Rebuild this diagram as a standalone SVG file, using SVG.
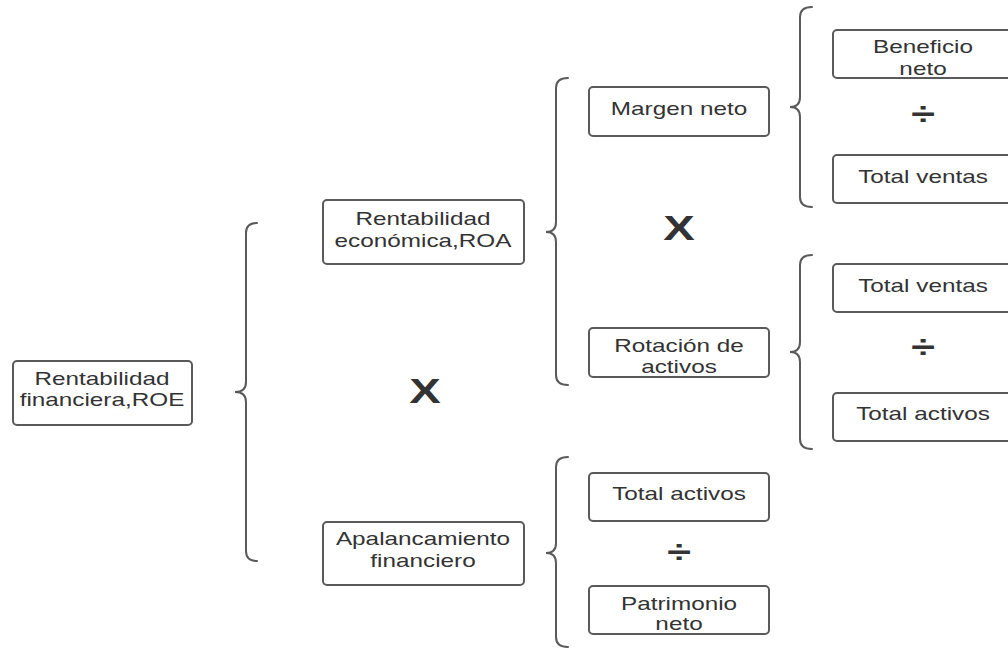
<svg xmlns="http://www.w3.org/2000/svg" width="1008" height="649" viewBox="0 0 1008 649">
<style>
.box{fill:#fff;stroke:#5a5a5a;stroke-width:2}
.br{fill:none;stroke:#5a5a5a;stroke-width:2;stroke-linecap:round}
.t{font-family:"Liberation Sans",Arial,sans-serif;font-size:18px;fill:#333;text-anchor:middle}
.op{font-family:"Liberation Sans",Arial,sans-serif;font-weight:bold;fill:#333;text-anchor:middle}
</style>
<rect width="1008" height="649" fill="#fff"/>
<g id="connectors">
<path class="br" d="M257,223 Q246,223 246,233 L246,382 Q246,392 235,392 Q246,392 246,402 L246,551 Q246,561 257,561"/>
<path class="br" d="M568,78 Q556,78 556,88 L556,222 Q556,232 546,232 Q556,232 556,242 L556,375 Q556,385 568,385"/>
<path class="br" d="M568,457 Q556,457 556,467 L556,543 Q556,553 546,553 Q556,553 556,563 L556,637 Q556,647 568,647"/>
<path class="br" d="M812,7 Q800,7 800,17 L800,97 Q800,107 790,107 Q800,107 800,117 L800,197 Q800,207 812,207"/>
<path class="br" d="M812,255 Q800,255 800,265 L800,342 Q800,352 790,352 Q800,352 800,362 L800,439 Q800,449 812,449"/>
</g>
<g id="roe"><rect class="box" x="13" y="361" width="179" height="64" rx="4"/>
<text class="t" transform="translate(102,385) scale(1.35,1)"><tspan x="0" y="0">Rentabilidad</tspan><tspan x="0" y="21">financiera,ROE</tspan></text></g>
<g id="roa"><rect class="box" x="323" y="200" width="201" height="64" rx="4"/>
<text class="t" transform="translate(423,225) scale(1.35,1)"><tspan x="0" y="0">Rentabilidad</tspan><tspan x="0" y="22">económica,ROA</tspan></text></g>
<g id="apalancamiento"><rect class="box" x="323" y="522" width="201" height="63" rx="4"/>
<text class="t" transform="translate(423,545) scale(1.35,1)"><tspan x="0" y="0">Apalancamiento</tspan><tspan x="0" y="22">financiero</tspan></text></g>
<g id="margen"><rect class="box" x="589" y="87" width="180" height="49" rx="4"/>
<text class="t" transform="translate(679,115) scale(1.35,1)">Margen neto</text></g>
<g id="rotacion"><rect class="box" x="589" y="328" width="180" height="49" rx="4"/>
<text class="t" transform="translate(679,352) scale(1.35,1)"><tspan x="0" y="0">Rotación de</tspan><tspan x="0" y="21">activos</tspan></text></g>
<g id="total-activos-1"><rect class="box" x="589" y="473" width="180" height="48" rx="4"/>
<text class="t" transform="translate(679,500) scale(1.35,1)">Total activos</text></g>
<g id="patrimonio"><rect class="box" x="589" y="586" width="180" height="48" rx="4"/>
<text class="t" transform="translate(679,610) scale(1.35,1)"><tspan x="0" y="0">Patrimonio</tspan><tspan x="0" y="20">neto</tspan></text></g>
<g id="beneficio"><rect class="box" x="833" y="30" width="180" height="48" rx="4"/>
<text class="t" transform="translate(923,53) scale(1.35,1)"><tspan x="0" y="0">Beneficio</tspan><tspan x="0" y="22">neto</tspan></text></g>
<g id="total-ventas-1"><rect class="box" x="833" y="155" width="180" height="48" rx="4"/>
<text class="t" transform="translate(923,183) scale(1.35,1)">Total ventas</text></g>
<g id="total-ventas-2"><rect class="box" x="833" y="264" width="180" height="48" rx="4"/>
<text class="t" transform="translate(923,292) scale(1.35,1)">Total ventas</text></g>
<g id="total-activos-2"><rect class="box" x="833" y="393" width="180" height="48" rx="4"/>
<text class="t" transform="translate(923,420) scale(1.35,1)">Total activos</text></g>
<g id="operators">
<text class="op" font-size="35" transform="translate(425,403) scale(1.35,1)">X</text>
<text class="op" font-size="35" transform="translate(679,240) scale(1.35,1)">X</text>
<text class="op" font-size="32" transform="translate(923,125) scale(1.35,1)">÷</text>
<text class="op" font-size="32" transform="translate(923,358) scale(1.35,1)">÷</text>
<text class="op" font-size="32" transform="translate(679,563) scale(1.35,1)">÷</text>
</g>
</svg>
